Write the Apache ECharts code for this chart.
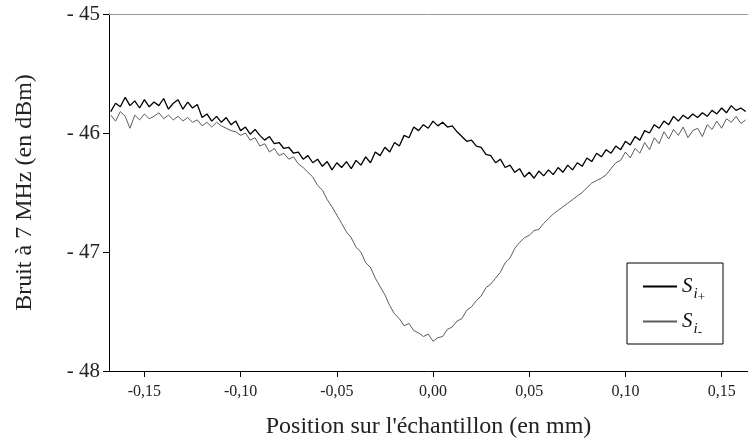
<!DOCTYPE html>
<html>
<head>
<meta charset="utf-8">
<script src="https://cdn.jsdelivr.net/npm/echarts@6/dist/echarts.min.js"></script>
<style>
  html, body { margin: 0; padding: 0; background: #fff; }
  #chart { width: 748px; height: 447px; }
</style>
</head>
<body>
<div id="chart"></div>
<script>
// Sampling grid along the sample (mm): first position and spacing
const xStart = -0.1675;
const xStep = 0.0025;

// Noise at 7 MHz (dBm), signal S_i+
const sPlus = [
  -45.82, -45.75, -45.78, -45.70, -45.77, -45.73, -45.79, -45.72, -45.78, -45.74,
  -45.77, -45.71, -45.80, -45.75, -45.72, -45.80, -45.74, -45.79, -45.76, -45.87,
  -45.84, -45.90, -45.86, -45.91, -45.87, -45.93, -45.90, -45.98, -45.95, -46.01,
  -45.97, -46.02, -46.06, -46.03, -46.09, -46.08, -46.13, -46.12, -46.17, -46.16,
  -46.22, -46.19, -46.25, -46.22, -46.28, -46.24, -46.31, -46.25, -46.29, -46.24,
  -46.30, -46.23, -46.27, -46.20, -46.25, -46.16, -46.19, -46.12, -46.16, -46.08,
  -46.11, -46.02, -46.04, -45.95, -45.98, -45.93, -45.96, -45.90, -45.94, -45.91,
  -45.95, -45.94, -45.99, -46.03, -46.07, -46.06, -46.11, -46.12, -46.18, -46.19,
  -46.25, -46.22, -46.29, -46.27, -46.33, -46.30, -46.37, -46.33, -46.38, -46.32,
  -46.36, -46.31, -46.35, -46.29, -46.33, -46.27, -46.31, -46.25, -46.28, -46.21,
  -46.24, -46.17, -46.20, -46.14, -46.17, -46.11, -46.14, -46.07, -46.10, -46.03,
  -46.06, -45.98, -46.00, -45.93, -45.96, -45.90, -45.93, -45.86, -45.90, -45.85,
  -45.88, -45.84, -45.87, -45.83, -45.86, -45.81, -45.84, -45.79, -45.83, -45.77,
  -45.81, -45.79, -45.82
];

// Noise at 7 MHz (dBm), signal S_i-
const sMinus = [
  -45.85, -45.90, -45.82, -45.86, -45.96, -45.85, -45.89, -45.84, -45.88, -45.86,
  -45.83, -45.88, -45.85, -45.89, -45.86, -45.90, -45.87, -45.91, -45.89, -45.94,
  -45.91, -45.95, -45.91, -45.94, -45.96, -45.98, -45.99, -46.02, -46.00, -46.06,
  -46.04, -46.11, -46.09, -46.16, -46.13, -46.19, -46.17, -46.22, -46.20, -46.26,
  -46.29, -46.33, -46.37, -46.44, -46.48, -46.56, -46.62, -46.69, -46.76, -46.83,
  -46.88, -46.96, -47.00, -47.09, -47.13, -47.22, -47.29, -47.36, -47.45, -47.52,
  -47.56, -47.62, -47.60, -47.66, -47.68, -47.71, -47.69, -47.75, -47.72, -47.71,
  -47.65, -47.63, -47.58, -47.56, -47.49, -47.46, -47.41, -47.37, -47.30, -47.27,
  -47.22, -47.17, -47.09, -47.05, -46.97, -46.92, -46.88, -46.86, -46.82, -46.81,
  -46.76, -46.72, -46.68, -46.65, -46.62, -46.59, -46.56, -46.53, -46.50, -46.46,
  -46.42, -46.40, -46.38, -46.35, -46.30, -46.25, -46.23, -46.16, -46.21, -46.13,
  -46.17, -46.08, -46.14, -46.04, -46.09, -45.99, -46.05, -45.97, -46.02, -45.95,
  -46.04, -45.98, -45.96, -46.03, -45.93, -45.97, -45.90, -45.96, -45.88, -45.91,
  -45.86, -45.92, -45.89
];

// Tick positions on the x axis (mm)
const xTicks = [-0.15, -0.10, -0.05, 0.00, 0.05, 0.10, 0.15];

const seriesNames = ['S_i+', 'S_i-'];
const legendText = {
  'S_i+': '{s|S}{i|i}{p|+}',
  'S_i-': '{s|S}{i|i}{m|-}'
};

const toPairs = vals => vals.map((v, k) => [+(xStart + k * xStep).toFixed(4), v]);

const serif = '"Liberation Serif", "DejaVu Serif", serif';

const chart = echarts.init(document.getElementById('chart'), null, { renderer: 'canvas' });

chart.setOption({
  animation: false,
  backgroundColor: '#fff',
  grid: { left: 109, right: 0, top: 14, bottom: 76, containLabel: false },
  xAxis: [
    {
      type: 'value',
      position: 'bottom',
      min: -0.1684,
      max: 0.1637,
      name: "Position sur l'échantillon (en mm)",
      nameLocation: 'middle',
      nameGap: 44,
      nameTextStyle: { fontFamily: serif, fontSize: 24, color: '#222' },
      axisLine: { show: true, onZero: false, lineStyle: { color: '#000', width: 1 } },
      axisTick: { show: true, inside: false, length: 6, lineStyle: { color: '#000' }, customValues: xTicks },
      axisLabel: {
        margin: 13,
        fontFamily: serif,
        fontSize: 16,
        color: '#222',
        customValues: xTicks,
        formatter: v => v.toFixed(2).replace('.', ',')
      },
      splitLine: { show: false }
    },
    {
      type: 'value',
      position: 'top',
      min: -0.1684,
      max: 0.1637,
      axisLine: { show: true, onZero: false, lineStyle: { color: '#9a9a9a', width: 1 } },
      axisTick: { show: false },
      axisLabel: { show: false },
      splitLine: { show: false }
    }
  ],
  yAxis: {
    type: 'value',
    min: -48,
    max: -45,
    interval: 1,
    name: 'Bruit à 7 MHz (en dBm)',
    nameLocation: 'middle',
    nameGap: 72,
    nameTextStyle: { fontFamily: serif, fontSize: 24, color: '#222' },
    axisLine: { show: true, onZero: false, lineStyle: { color: '#000', width: 1 } },
    axisTick: { show: true, length: 6, lineStyle: { color: '#000' } },
    axisLabel: {
      margin: 9,
      fontFamily: serif,
      fontSize: 21,
      color: '#222',
      formatter: v => '- ' + Math.abs(v)
    },
    splitLine: { show: false }
  },
  legend: {
    orient: 'vertical',
    left: 627,
    top: 263,
    padding: [6, 18, 5, 15],
    itemGap: 0,
    itemWidth: 34,
    itemHeight: 14,
    borderColor: '#000',
    borderWidth: 1,
    backgroundColor: '#fff',
    data: seriesNames,
    itemStyle: { opacity: 0 },
    formatter: name => legendText[name],
    textStyle: {
      fontFamily: serif,
      color: '#111',
      rich: {
        s: { fontFamily: serif, fontStyle: 'italic', fontSize: 21, lineHeight: 36 },
        i: { fontFamily: serif, fontStyle: 'italic', fontSize: 15, lineHeight: 20, padding: [16, 0, 0, 1] },
        p: { fontFamily: serif, fontSize: 13, lineHeight: 14, padding: [22, 0, 0, 0] },
        m: { fontFamily: serif, fontSize: 13, lineHeight: 14, padding: [22, 0, 0, 0] }
      }
    }
  },
  series: [
    {
      name: seriesNames[0],
      type: 'line',
      data: toPairs(sPlus),
      symbol: 'none',
      lineStyle: { color: '#000', width: 1.3 },
      itemStyle: { color: '#000' },
      z: 3
    },
    {
      name: seriesNames[1],
      type: 'line',
      data: toPairs(sMinus),
      symbol: 'none',
      lineStyle: { color: '#5c5c5c', width: 1 },
      itemStyle: { color: '#5c5c5c' },
      z: 2
    }
  ]
});
</script>
</body>
</html>
